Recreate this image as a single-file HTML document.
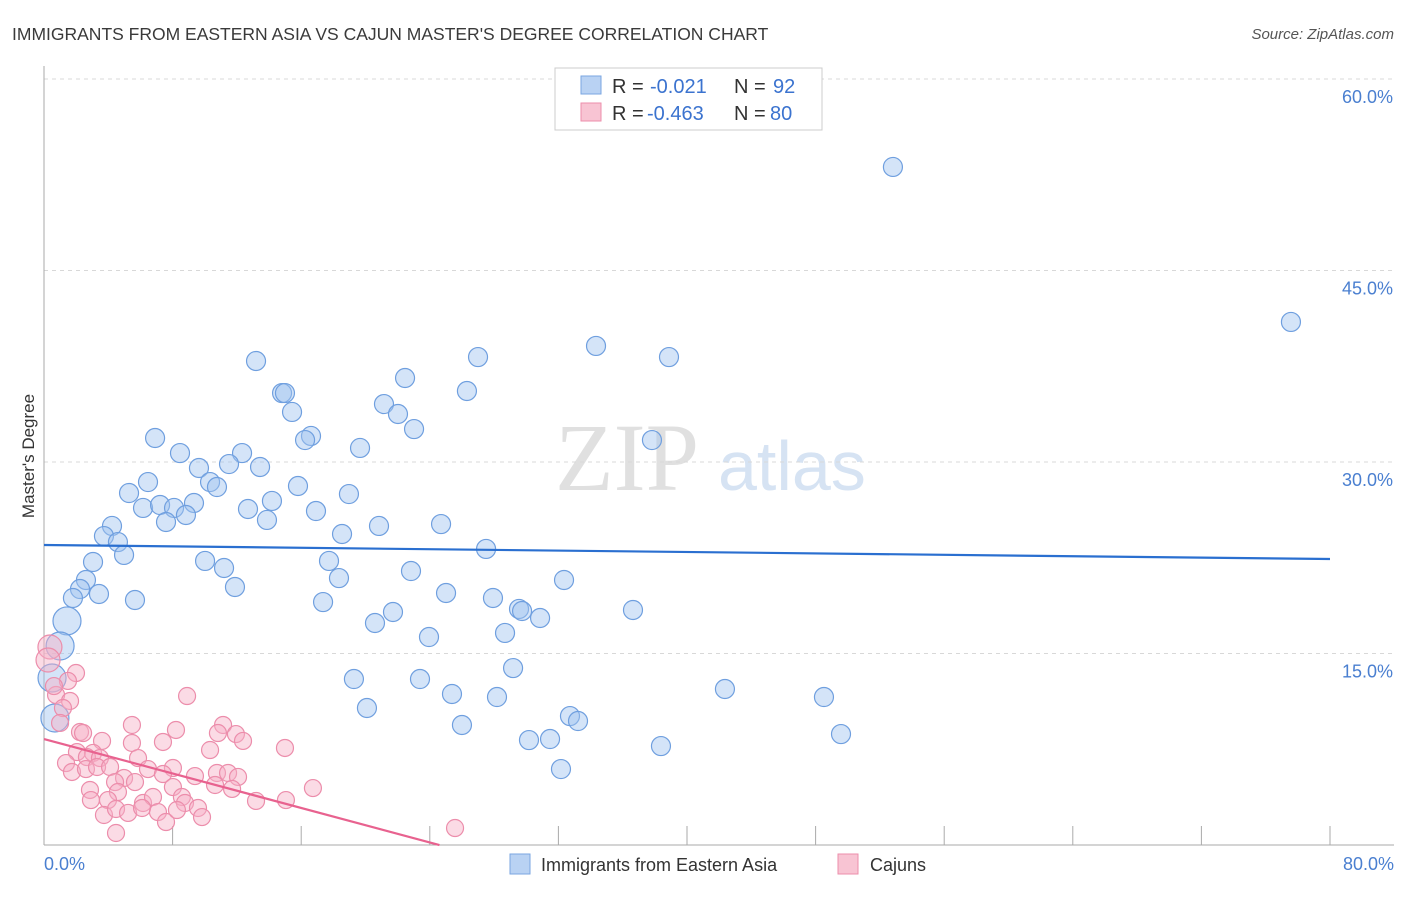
<!DOCTYPE html>
<html><head><meta charset="utf-8"><style>
body{margin:0;background:#fff;font-family:"Liberation Sans",sans-serif}
</style></head><body>
<svg width="1406" height="892" viewBox="0 0 1406 892" xmlns="http://www.w3.org/2000/svg">
<text x="12" y="40" font-size="17.5" fill="#3a3a3a">IMMIGRANTS FROM EASTERN ASIA VS CAJUN MASTER'S DEGREE CORRELATION CHART</text>
<text x="1394" y="39" font-size="15" fill="#555" font-style="italic" text-anchor="end">Source: ZipAtlas.com</text>
<text x="555" y="490" font-size="96" fill="#e0e0e0" font-family="Liberation Serif,serif">ZIP</text>
<text x="718" y="490" font-size="70" fill="#d6e3f3">atlas</text>
<g id="grid"></g>
<g id="axes"></g>
<g id="pts"></g>
<text transform="translate(34,456) rotate(-90)" font-size="17" fill="#333" text-anchor="middle">Master's Degree</text>
<text x="44" y="870" font-size="18" fill="#4a7fd0">0.0%</text>
<text x="1394" y="870" font-size="18" fill="#4a7fd0" text-anchor="end">80.0%</text>
<g>
<rect x="555" y="68" width="267" height="62" fill="#fff" stroke="#ccc"/>
<rect x="581" y="76" width="20" height="18" fill="#b9d2f3" stroke="#7aa6e0"/>
<rect x="581" y="103" width="20" height="18" fill="#f8c4d3" stroke="#ec8eab"/>
<text x="612" y="93" font-size="20" fill="#333">R =</text>
<text x="650" y="93" font-size="20" fill="#3b73cf">-0.021</text>
<text x="734" y="93" font-size="20" fill="#333">N =</text>
<text x="773" y="93" font-size="20" fill="#3b73cf">92</text>
<text x="612" y="120" font-size="20" fill="#333">R =</text>
<text x="647" y="120" font-size="20" fill="#3b73cf">-0.463</text>
<text x="734" y="120" font-size="20" fill="#333">N =</text>
<text x="770" y="120" font-size="20" fill="#3b73cf">80</text>
</g>
<g><rect x="510" y="854" width="20" height="20" fill="#b9d2f3" stroke="#7aa6e0"/><text x="541" y="871" font-size="18" fill="#333">Immigrants from Eastern Asia</text></g>
<g><rect x="838" y="854" width="20" height="20" fill="#f8c4d3" stroke="#ec8eab"/><text x="870" y="871" font-size="18" fill="#333">Cajuns</text></g>
</svg>
<script>
const yTicks=[15,30,45,60];
const xTicks=[8,16,24,32,40,48,56,64,72,80];
const bluePx=[[893,167],[1291,322],[256,361],[478,357],[596,346],[669,357],[405,378],[282,393],[285,393],[467,391],[292,412],[384,404],[398,414],[414,429],[311,436],[305,440],[155,438],[652,440],[360,448],[180,453],[242,453],[199,468],[229,464],[260,467],[148,482],[210,482],[217,487],[298,486],[349,494],[129,493],[272,501],[143,508],[160,505],[174,508],[194,503],[248,509],[316,511],[186,515],[166,522],[267,520],[112,526],[379,526],[441,524],[342,534],[104,536],[118,542],[486,549],[124,555],[93,562],[205,561],[329,561],[224,568],[411,571],[86,580],[339,578],[564,580],[80,589],[235,587],[73,598],[99,594],[135,600],[446,593],[493,598],[323,602],[633,610],[519,609],[393,612],[522,611],[540,618],[375,623],[67,621],[505,633],[429,637],[60,646],[513,668],[52,678],[354,679],[420,679],[725,689],[452,694],[497,697],[824,697],[367,708],[55,718],[570,716],[578,721],[462,725],[841,734],[529,740],[550,739],[661,746],[561,769]];
const pinkPx=[[50,647],[76,673],[68,681],[56,695],[70,701],[63,708],[60,723],[187,696],[132,725],[176,730],[80,732],[83,733],[102,741],[132,743],[163,742],[223,725],[218,733],[236,734],[243,741],[210,750],[285,748],[77,752],[93,753],[66,763],[87,757],[100,758],[138,758],[72,772],[86,769],[97,767],[110,767],[148,769],[173,768],[163,774],[195,776],[217,773],[228,773],[238,777],[215,785],[232,789],[124,778],[115,782],[135,782],[173,787],[90,790],[118,792],[256,801],[286,800],[313,788],[91,800],[108,800],[143,803],[153,797],[182,797],[185,803],[198,808],[104,815],[116,809],[128,813],[142,808],[158,812],[166,822],[177,810],[202,817],[116,833],[455,828],[54,686],[48,660]];
const blueX=bluePx.map(p=>+((p[0]-44)*80/1286).toFixed(2));
const blueY=bluePx.map(p=>+((845-p[1])*60/766).toFixed(2));
const pinkX=pinkPx.map(p=>+((p[0]-44)*80/1286).toFixed(2));
const pinkY=pinkPx.map(p=>+((845-p[1])*60/766).toFixed(2));
const blueTrend=[[0,23.5],[80,22.4]];
const pinkTrend=[[0,8.3],[24.6,0]];
const X=v=>44+v*1286/80, Y=v=>845-v*766/60;
const NS="http://www.w3.org/2000/svg";
function mk(t,a,p){const e=document.createElementNS(NS,t);for(const k in a)e.setAttribute(k,a[k]);p.appendChild(e);return e;}
const g=document.getElementById('grid'),ax=document.getElementById('axes'),pts=document.getElementById('pts');
yTicks.forEach(t=>{const l=mk('line',{x1:44,x2:1394,y1:Y(t),y2:Y(t),stroke:'#d8d8d8','stroke-dasharray':'4,4'},g);


const tx=mk('text',{x:1393,y:Y(t)+24,'font-size':18,fill:'#4a7fd0','text-anchor':'end'},g);tx.textContent=t.toFixed(1)+'%';

});
const xa=mk('line',{x1:44,x2:1394,y1:845,y2:845,stroke:'#aaa'},ax);


const ya=mk('line',{x1:44,x2:44,y1:66,y2:845,stroke:'#aaa'},ax);


xTicks.forEach(t=>{const l=mk('line',{x1:X(t),x2:X(t),y1:826,y2:845,stroke:'#aaa'},ax);

});
blueX.forEach((v,i)=>{const c=mk('circle',{cx:X(v),cy:Y(blueY[i]),r:(v<1.5?14:9.5),fill:'rgba(160,195,240,0.45)',stroke:'#6f9fdf','stroke-width':1.2},pts);

});
pinkX.forEach((v,i)=>{const c=mk('circle',{cx:X(v),cy:Y(pinkY[i]),r:(v<0.5?12:8.5),fill:'rgba(246,175,198,0.45)',stroke:'#ec8dab','stroke-width':1.2},pts);

});
const bt=mk('line',{x1:X(blueTrend[0][0]),y1:Y(blueTrend[0][1]),x2:X(blueTrend[1][0]),y2:Y(blueTrend[1][1]),stroke:'#2a6fd0','stroke-width':2.2},pts);


const pt=mk('line',{x1:X(pinkTrend[0][0]),y1:Y(pinkTrend[0][1]),x2:X(pinkTrend[1][0]),y2:Y(pinkTrend[1][1]),stroke:'#e8628f','stroke-width':2.2},pts);


</script>
</body></html>
